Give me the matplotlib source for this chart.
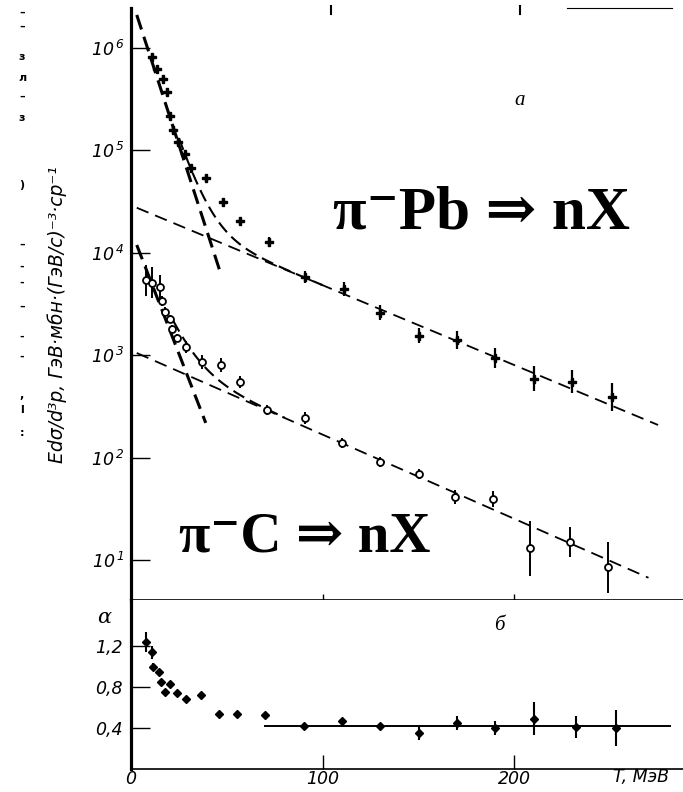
import numpy as np
import matplotlib
matplotlib.use("Agg")
import matplotlib.pyplot as plt

plt.rcParams['mathtext.fontset'] = 'custom'
plt.rcParams['mathtext.rm'] = 'DejaVu Sans:italic'
plt.rcParams['mathtext.it'] = 'DejaVu Sans:italic'

# --- data (T in MeV) ---
pb_T = [10.9, 13.5, 16.7, 18.8, 20.3, 21.9, 24.5, 28.1, 31.3, 39, 48, 57, 72,
        91, 111, 130, 150.5, 170, 190, 210, 230, 251]
pb_val = [8.2e5, 6.2e5, 5.0e5, 3.7e5, 2.17e5, 1.58e5, 1.21e5, 9.2e4, 6.7e4, 5.4e4,
          3.1e4, 2.04e4, 1.27e4, 5.8e3, 4.4e3, 2.6e3, 1.55e3, 1.41e3, 9.4e2, 5.9e2,
          5.5e2, 3.9e2]
pb_err = [0.04, 0.04, 0.04, 0.04, 0.04, 0.04, 0.04, 0.04, 0.04, 0.04, 0.04, 0.04, 0.05,
          0.06, 0.07, 0.07, 0.07, 0.09, 0.1, 0.12, 0.11, 0.14]   # half-length, decades

c_T = [7.8, 10.9, 15.0, 16.3, 17.7, 20.3, 21.4, 24, 28.6, 37, 47, 57, 71,
       90.6, 110, 130, 150, 169, 189, 208, 229, 249]
c_val = [5.4e3, 5.1e3, 4.6e3, 3.4e3, 2.64e3, 2.25e3, 1.8e3, 1.47e3, 1.2e3, 8.6e2, 8.0e2,
         5.5e2, 2.9e2, 2.44e2, 1.39e2, 90, 69, 41, 39.5, 13, 15, 8.5]
c_err = [0.15, 0.15, 0.12, 0.05, 0.05, 0.04, 0.04, 0.04, 0.06, 0.07, 0.07, 0.06, 0.05,
         0.06, 0.05, 0.05, 0.05, 0.07, 0.08, 0.27, 0.15, 0.25]

# fitted exponentials: two end points each (T, value)
pb_steep = [(3, 2.1e6), (47, 6.1e3)]
pb_flat = [(3, 2.75e4), (275, 208)]
c_steep = [(3, 1.19e4), (39, 218)]
c_flat = [(3, 1.05e3), (270, 6.7)]

alpha_T = [8.0, 10.8, 11.5, 14.4, 15.8, 17.7, 20.2, 24.1, 28.9, 36.7, 46, 55.5, 70,
           90, 110, 130, 150, 170, 190, 210.5, 232, 253]
alpha = [1.24, 1.14, 1.0, 0.95, 0.85, 0.75, 0.83, 0.74, 0.68, 0.72, 0.54, 0.54, 0.53,
         0.42, 0.47, 0.42, 0.35, 0.45, 0.40, 0.49, 0.41, 0.40]
alpha_err = [0.1, 0.065, 0.03, 0.03, 0.03, 0.03, 0.03, 0.025, 0.025, 0.025, 0.025, 0.025,
             0.025, 0.025, 0.03, 0.02, 0.065, 0.065, 0.065, 0.16, 0.11, 0.18]
alpha_mean = 0.42
alpha_fit_range = (70, 281)

W, H = 683, 792


def line_through(p, T):
    (x1, y1), (x2, y2) = p
    k = (np.log10(y2) - np.log10(y1)) / (x2 - x1)
    return 10 ** (np.log10(y1) + k * (np.asarray(T) - x1))


def log_err(vals, dec):
    v = np.asarray(vals)
    d = np.asarray(dec)
    return [v - v * 10 ** -d, v * 10 ** d - v]


fig = plt.figure(figsize=(W / 100, H / 100), dpi=100)
ax1 = fig.add_axes([131 / W, (H - 600) / H, (W - 131) / W, (600 - 8) / H])
ax2 = fig.add_axes([131 / W, (H - 769) / H, (W - 131) / W, 169 / H])

# --- upper panel ---
ax1.set_yscale('log')
ax1.set_xlim(0, 288)
ax1.set_ylim(10 ** 0.609, 10 ** 6.39)

ax1.errorbar(pb_T, pb_val, yerr=log_err(pb_val, pb_err), fmt='P', color='k',
             ms=5.5, elinewidth=1.6, capsize=0, zorder=3)
ax1.errorbar(c_T, c_val, yerr=log_err(c_val, c_err), fmt='o', color='k', mfc='white',
             mec='k', ms=5, mew=1.3, elinewidth=1.4, capsize=0, zorder=3)

t = np.linspace(pb_steep[0][0], pb_steep[1][0], 50)
ax1.plot(t, line_through(pb_steep, t), 'k', lw=2.2, dashes=(5, 2.5))
t = np.linspace(pb_flat[0][0], pb_flat[1][0], 50)
ax1.plot(t, line_through(pb_flat, t), 'k', lw=1.3, dashes=(7, 4))
t = np.linspace(25, 100, 80)
ax1.plot(t, line_through(pb_steep, t) + line_through(pb_flat, t), 'k', lw=1.5, dashes=(6, 3))

t = np.linspace(c_steep[0][0], c_steep[1][0], 50)
ax1.plot(t, line_through(c_steep, t), 'k', lw=2.2, dashes=(5, 2.5))
t = np.linspace(c_flat[0][0], c_flat[1][0], 50)
ax1.plot(t, line_through(c_flat, t), 'k', lw=1.3, dashes=(7, 4))
t = np.linspace(22, 80, 80)
ax1.plot(t, line_through(c_steep, t) + line_through(c_flat, t), 'k', lw=1.5, dashes=(6, 3))

decades = [1, 2, 3, 4, 5, 6]
ax1.set_yticks([10 ** d for d in decades])
ax1.set_yticklabels([r'$10^{\,%d}$' % d for d in decades], fontsize=12.5)
ax1.yaxis.set_minor_locator(matplotlib.ticker.NullLocator())
ax1.tick_params(axis='y', direction='in', length=14, width=1, pad=5)
ax1.set_xticks([100, 200])
ax1.set_xticklabels([])
ax1.tick_params(axis='x', direction='inout', length=9, width=1)

for s in ['top', 'right']:
    ax1.spines[s].set_visible(False)
ax1.spines['left'].set_linewidth(2.3)
ax1.spines['bottom'].set_linewidth(1.2)

ax1.text(203, 10 ** 5.49, 'а', fontsize=15, style='italic', family='Liberation Serif',
         ha='center', va='center')
ax1.text(183, 10 ** 4.38, 'π⁻Pb ⇒ nX', fontsize=44, fontweight='bold',
         family=['Liberation Serif', 'DejaVu Serif'], ha='center', va='center')
ax1.text(25, 10 ** 1.22, 'π⁻C ⇒ nX', fontsize=41, fontweight='bold',
         family=['Liberation Serif', 'DejaVu Serif'], ha='left', va='center')

fig.text(57 / W, 1 - 315 / H, 'Edσ/d³p, ГэВ·мбн·(ГэВ/с)⁻³·ср⁻¹', rotation=90,
         fontsize=13.5, style='italic', ha='center', va='center',
         family=['Liberation Sans Narrow', 'DejaVu Sans'])

# --- lower panel ---
ax2.set_xlim(0, 288)
ax2.set_ylim(0, 1.649)
ax2.errorbar(alpha_T, alpha, yerr=alpha_err, fmt='D', color='k', ms=4,
             elinewidth=1.5, capsize=0, zorder=3)
ax2.plot(alpha_fit_range, [alpha_mean, alpha_mean], 'k', lw=1.4)

ax2.set_yticks([0.4, 0.8, 1.2])
ax2.set_yticklabels(['0,4', '0,8', '1,2'], fontsize=12.5, style='italic')
ax2.tick_params(axis='y', direction='in', length=14, width=1, pad=6)
ax2.set_xticks([0, 100, 200])
ax2.set_xticklabels(['0', '100', '200'], fontsize=12.5, style='italic')
ax2.tick_params(axis='x', direction='in', length=10, width=1, pad=1)
for s in ['top', 'right']:
    ax2.spines[s].set_visible(False)
ax2.spines['left'].set_linewidth(2.3)
ax2.spines['bottom'].set_linewidth(1.2)

ax2.text(-14, 1.48, 'α', fontsize=15, style='italic', family='DejaVu Serif',
         ha='center', va='center')
ax2.text(192, 1.40, 'б', fontsize=15, style='italic', family='Liberation Serif',
         ha='center', va='center')
fig.text(641 / W, 1 - 777 / H, 'T, МэВ', fontsize=12.5, style='italic',
         ha='center', va='center')

# scan remnants along the top edge and the left margin
fig.add_artist(plt.Line2D([567 / W, 672 / W], [1 - 8 / H, 1 - 8 / H], color='k', lw=0.8))
for xp in [331, 520]:
    fig.add_artist(plt.Line2D([xp / W, xp / W], [1 - 6 / H, 1 - 14 / H], color='k', lw=1.5))
margin = [(13, '–'), (27, '–'), (57, 'з'), (78, 'л'), (97, '–'), (118, 'з'), (185, ')'),
          (245, '–'), (267, '-'), (283, '-'), (307, '–'), (337, '-'), (357, '-'),
          (395, ','), (410, 'l'), (433, ':')]
for yp, ch in margin:
    fig.text(22 / W, 1 - yp / H, ch, fontsize=8, fontweight='bold', ha='center', va='center')

fig.savefig('out.png', dpi=100)
